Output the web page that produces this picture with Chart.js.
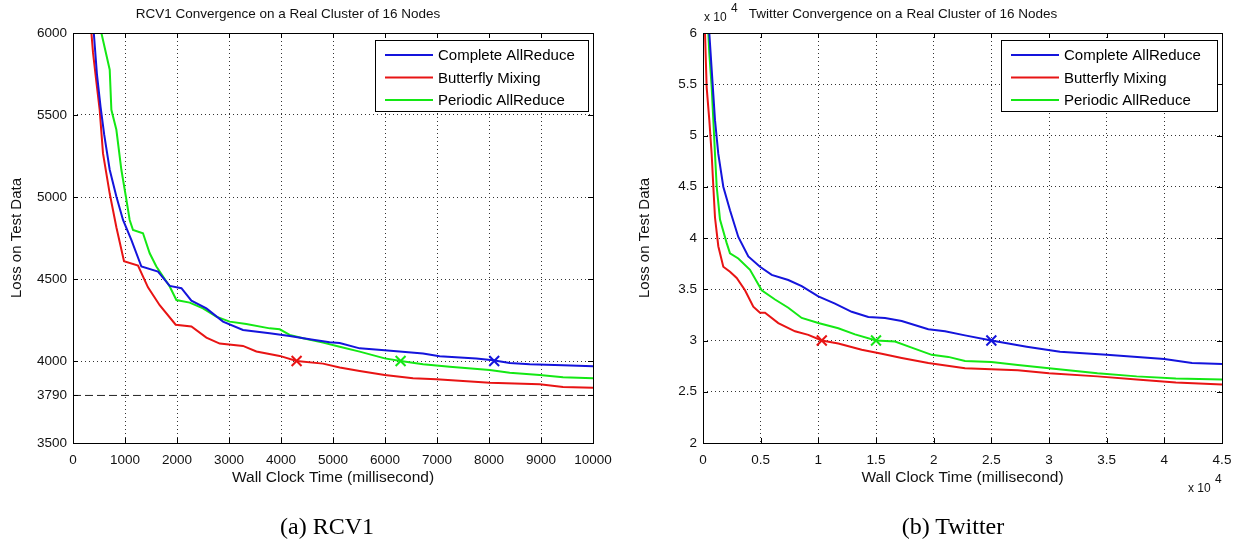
<!DOCTYPE html>
<html>
<head>
<meta charset="utf-8">
<script src="https://cdn.jsdelivr.net/npm/chart.js@4.4.0/dist/chart.umd.min.js"></script>
<style>
  body { margin: 0; background: #fff; }
  #wrap { position: relative; width: 1244px; height: 550px; overflow: hidden; }
  canvas { position: absolute; top: 0; }
  .cap {
    position: absolute; top: 513px;
    font-family: 'Liberation Serif', 'DejaVu Serif', serif;
    font-size: 24px; color: #000;
    transform: translateX(-50%); white-space: nowrap;
  }
</style>
</head>
<body>
<div id="wrap">
  <canvas id="rcv" width="622" height="550" style="left:0"></canvas>
  <canvas id="tw" width="622" height="550" style="left:622px"></canvas>
  <div class="cap" style="left:327px">(a) RCV1</div>
  <div class="cap" style="left:953px">(b) Twitter</div>
</div>
<script>
// series names (legend order)
const seriesNames = ['Complete AllReduce', 'Butterfly Mixing', 'Periodic AllReduce'];
const seriesColors = ['#1414dc', '#e81414', '#14e814'];

// ---- RCV1: [time ms, loss] ----
const rcvComplete = [[400,6000],[460,5750],[530,5550],[600,5380],[706,5166],[834,5003],[962,4860],[1122,4738],
  [1315,4576],[1635,4545],[1860,4458],[2085,4444],[2277,4368],[2565,4321],[2885,4240],[3269,4189],
  [3783,4169],[4167,4152],[4552,4132],[4935,4114],[5129,4110],[5513,4077],[5994,4066],[6731,4046],
  [7051,4029],[7756,4015],[8077,4005],[8398,3988],[8783,3980],[9423,3974],[10000,3968]];
const rcvButterfly = [[354,6000],[385,5880],[450,5700],[513,5531],[577,5266],[706,5021],[834,4816],[981,4608],
  [1250,4582],[1442,4449],[1667,4340],[1975,4221],[2277,4210],[2565,4143],[2821,4106],[3269,4092],
  [3527,4058],[3975,4031],[4300,4000],[4808,3984],[5129,3960],[5513,3939],[5994,3915],[6538,3895],
  [6988,3889],[8013,3868],[8975,3858],[9423,3841],[10000,3837]];
const rcvPeriodic = [[546,6000],[706,5776],[738,5532],[834,5410],[930,5166],[1027,4983],[1090,4860],[1154,4799],
  [1346,4779],[1475,4657],[1603,4576],[1860,4454],[1988,4372],[2244,4356],[2500,4321],[2756,4270],
  [3013,4240],[3333,4226],[3783,4199],[3975,4193],[4167,4159],[4423,4139],[4808,4112],[5129,4087],
  [5513,4057],[5994,4016],[6300,4000],[6731,3980],[7244,3965],[8013,3945],[8398,3929],[8975,3915],
  [9423,3901],[10000,3895]];
// crossing points at loss 4000 (complete, butterfly, periodic)
const rcvMarks = [[8100,4000],[4300,4000],[6300,4000]];
const rcvOptimum = 3790;
const rcvXTicks = [0,1000,2000,3000,4000,5000,6000,7000,8000,9000,10000];
const rcvYTicks = [3500,3790,4000,4500,5000,5500,6000];

// ---- Twitter: [time ms, loss] ----
const twComplete = [[546,60000],[754,56400],[1040,51500],[1327,48200],[1760,45000],[2341,42700],[3061,40100],
  [3928,38200],[4942,37200],[5957,36400],[7396,35900],[8558,35300],[9997,34300],[11445,33600],
  [12893,32800],[14333,32300],[15781,32200],[17229,31900],[19535,31100],[20983,30900],[22717,30500],
  [25000,30000],[28067,29400],[30955,28900],[35000,28600],[40000,28200],[42400,27800],[45000,27700]];
const twButterfly = [[173,60000],[318,54700],[548,51500],[751,48200],[896,45000],[1040,42000],[1327,39200],
  [1760,37200],[2341,36700],[2922,36100],[3642,34900],[4361,33300],[4942,32700],[5376,32700],
  [6529,31700],[7977,30900],[9130,30550],[10300,30000],[11731,29700],[13760,29100],[15495,28700],
  [17229,28300],[19535,27800],[22717,27300],[25000,27200],[27300,27100],[30000,26800],[34200,26500],
  [37600,26200],[41000,25900],[45000,25700]];
const twPeriodic = [[462,60000],[548,58000],[754,54700],[896,51500],[1040,48200],[1188,45000],[1474,41800],
  [2055,39500],[2341,38500],[3061,38000],[4075,36900],[5090,34900],[6243,34000],[7396,33200],
  [8558,32200],[9997,31700],[11731,31200],[13180,30600],[15000,30000],[16648,29900],[18096,29300],
  [19830,28600],[21270,28400],[22717,28000],[25000,27900],[27300,27600],[30000,27300],[34200,26800],
  [37600,26500],[41000,26300],[45000,26200]];
const twMarks = [[25000,30000],[10300,30000],[15000,30000]];
const twXTicks = [0,5000,10000,15000,20000,25000,30000,35000,40000,45000];
const twYTicks = [20000,25000,30000,35000,40000,45000,50000,55000,60000];

const FONT = "'Liberation Sans', Arial, sans-serif";

function toXY(arr) {
    return arr.map(p => ({x: p[0], y: p[1]}));
}

// frame, inward ticks, title, axis titles, legend, exponent labels
const matlabDecor = {
    id: 'matlabDecor',
    afterDatasetsDraw(chart, args, opts) {
        const {ctx, chartArea: a, scales} = chart;
        ctx.save();
        ctx.strokeStyle = '#000';
        ctx.lineWidth = 1;
        ctx.strokeRect(a.left + 0.5, a.top + 0.5, a.width, a.height);

        // inward tick marks
        ctx.beginPath();
        scales.x.ticks.forEach(t => {
            const px = Math.round(scales.x.getPixelForValue(t.value)) + 0.5;
            ctx.moveTo(px, a.bottom); ctx.lineTo(px, a.bottom - 5);
            ctx.moveTo(px, a.top); ctx.lineTo(px, a.top + 5);
        });
        scales.y.ticks.forEach(t => {
            const py = Math.round(scales.y.getPixelForValue(t.value)) + 0.5;
            ctx.moveTo(a.left, py); ctx.lineTo(a.left + 5, py);
            ctx.moveTo(a.right, py); ctx.lineTo(a.right - 5, py);
        });
        ctx.stroke();

        // legend box
        const w = opts.legendW, h = 71;
        const lx = a.right - 5 - w, ly = a.top + 7;
        ctx.fillStyle = '#fff';
        ctx.fillRect(lx, ly, w, h);
        ctx.strokeRect(lx + 0.5, ly + 0.5, w, h);
        ctx.font = '15px ' + FONT;
        ctx.textBaseline = 'middle';
        ctx.textAlign = 'left';
        seriesNames.forEach((name, i) => {
            const yy = ly + 15 + i * 22.5;
            ctx.strokeStyle = seriesColors[i];
            ctx.lineWidth = 2;
            ctx.beginPath();
            ctx.moveTo(lx + 10, yy); ctx.lineTo(lx + 58, yy);
            ctx.stroke();
            ctx.fillStyle = '#000';
            ctx.fillText(name, lx + 63, yy + 1);
        });

        // texts
        ctx.fillStyle = '#111';
        ctx.textAlign = 'center';
        ctx.font = '13.5px ' + FONT;
        ctx.fillText(opts.title, opts.titleX, 14);
        ctx.font = '15.5px ' + FONT;
        ctx.fillText('Wall Clock Time (millisecond)', (a.left + a.right) / 2, 478);
        ctx.font = '15px ' + FONT;
        ctx.save();
        ctx.translate(opts.yTitleX, (a.top + a.bottom) / 2);
        ctx.rotate(-Math.PI / 2);
        ctx.fillText('Loss on Test Data', 0, 0);
        ctx.restore();

        if (opts.exponent) {
            ctx.textAlign = 'left';
            ctx.font = '12px ' + FONT;
            ctx.fillText('x 10', a.left + 1, 18);
            ctx.fillText('4', a.left + 28, 9);
            ctx.fillText('x 10', a.right - 34, 489);
            ctx.fillText('4', a.right - 7, 480);
        }
        ctx.restore();
    }
};

function makeChart(id, cfg) {
    const datasets = cfg.series.map((s, i) => ({
        type: 'line',
        label: seriesNames[i],
        data: toXY(s),
        borderColor: seriesColors[i],
        borderWidth: 2,
        pointRadius: 0,
        tension: 0,
        fill: false
    }));
    cfg.marks.forEach((m, i) => {
        datasets.push({
            type: 'scatter',
            label: seriesNames[i] + ' mark',
            data: toXY([m]),
            pointStyle: 'crossRot',
            pointRadius: 7,
            borderWidth: 2,
            borderColor: seriesColors[i],
            backgroundColor: seriesColors[i]
        });
    });
    if (cfg.hline !== undefined) {
        datasets.push({
            type: 'line',
            label: 'optimum',
            data: toXY([[cfg.xTicks[0], cfg.hline], [cfg.xTicks[cfg.xTicks.length - 1], cfg.hline]]),
            borderColor: '#222',
            borderWidth: 1,
            borderDash: [8, 4],
            pointRadius: 0
        });
    }

    const tickFont = {family: FONT, size: 13.5};
    return new Chart(document.getElementById(id), {
        data: {datasets},
        options: {
            responsive: false,
            animation: false,
            layout: {padding: {top: 33, right: cfg.padRight, left: 0, bottom: 0}},
            plugins: {
                legend: {display: false},
                tooltip: {enabled: false},
                matlabDecor: {title: cfg.title, titleX: cfg.titleX, legendW: cfg.legendW, yTitleX: cfg.yTitleX, exponent: cfg.exponent}
            },
            scales: {
                x: {
                    type: 'linear',
                    min: cfg.xTicks[0],
                    max: cfg.xTicks[cfg.xTicks.length - 1],
                    afterBuildTicks: s => { s.ticks = cfg.xTicks.map(v => ({value: v})); },
                    afterFit: s => { s.height = 107; },
                    grid: {color: '#333', lineWidth: 1, drawTicks: false},
                    border: {display: false, dash: [1, 3]},
                    ticks: {
                        font: tickFont, color: '#111', padding: 9, maxRotation: 0,
                        callback: v => cfg.exponent ? String(v / 1e4) : String(v)
                    }
                },
                y: {
                    type: 'linear',
                    min: cfg.yTicks[0],
                    max: cfg.yTicks[cfg.yTicks.length - 1],
                    afterBuildTicks: s => { s.ticks = cfg.yTicks.map(v => ({value: v})); },
                    afterFit: s => { s.width = cfg.yAxisW; },
                    grid: {
                        color: c => (c.tick && c.tick.value === cfg.hline) ? 'rgba(0,0,0,0)' : '#333',
                        lineWidth: 1, drawTicks: false
                    },
                    border: {display: false, dash: [1, 3]},
                    ticks: {
                        font: tickFont, color: '#111', padding: 6,
                        callback: v => cfg.exponent ? String(v / 1e4) : String(v)
                    }
                }
            }
        },
        plugins: [matlabDecor]
    });
}

makeChart('rcv', {
    series: [rcvComplete, rcvButterfly, rcvPeriodic],
    marks: rcvMarks,
    hline: rcvOptimum,
    xTicks: rcvXTicks,
    yTicks: rcvYTicks,
    title: 'RCV1 Convergence on a Real Cluster of 16 Nodes',
    titleX: 288,
    padRight: 29,
    yAxisW: 73,
    yTitleX: 17,
    legendW: 213,
    exponent: false
});

makeChart('tw', {
    series: [twComplete, twButterfly, twPeriodic],
    marks: twMarks,
    xTicks: twXTicks,
    yTicks: twYTicks,
    title: 'Twitter Convergence on a Real Cluster of 16 Nodes',
    titleX: 903 - 622,
    padRight: 22,
    yAxisW: 81,
    yTitleX: 23,
    legendW: 216,
    exponent: true
});
</script>
</body>
</html>
